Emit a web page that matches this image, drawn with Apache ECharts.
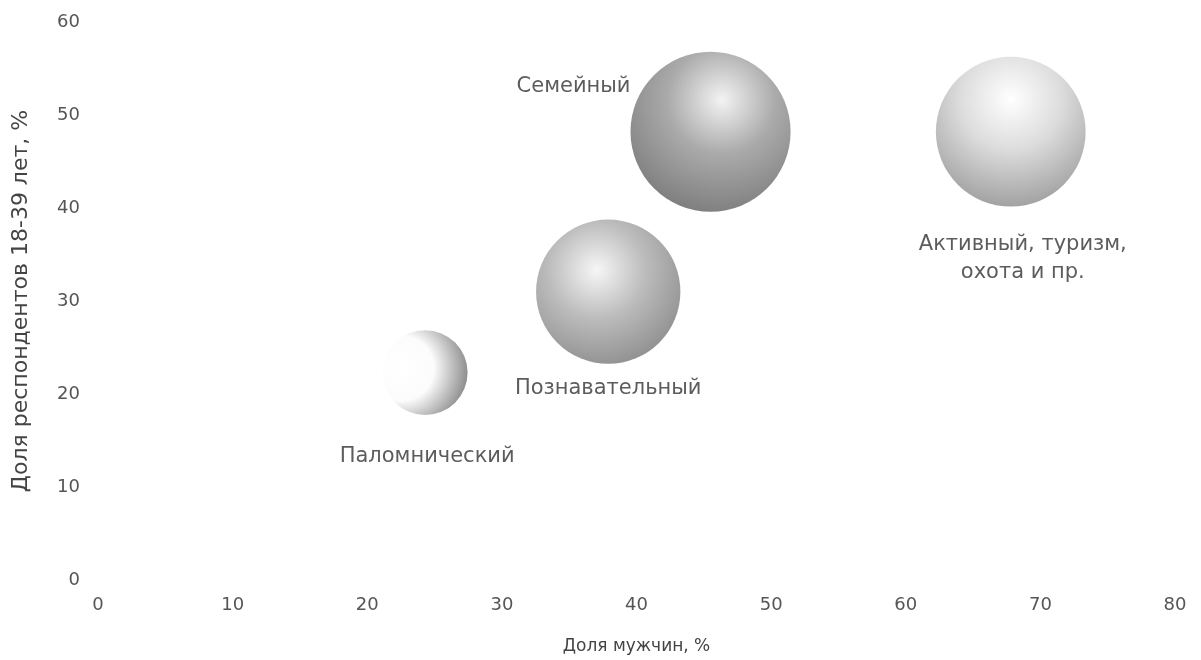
<!DOCTYPE html>
<html><head><meta charset="utf-8">
<script src="https://cdn.jsdelivr.net/npm/echarts@6/dist/echarts.min.js"></script>
<style>html,body{margin:0;padding:0;background:#fff}#c{width:1201px;height:660px}</style>
</head><body><div id="c"></div>
<script>
const names = ['Паломнический', 'Познавательный', 'Семейный', 'Активный, туризм,\nохота и пр.'];
const menShare = [24.3, 37.9, 45.5, 67.8];
const youngShare = [22.3, 31.0, 48.2, 48.2];
const bubbleSize = [9, 26, 32, 28];

const FONT = 'DejaVu Sans';
const styles = [
  {hl: [0.22, 0.45], r: 0.85, stops: ['#ffffff', '#fbfbfb', '#5a5a5a'], lab: {position: 'bottom', distance: 27, offset: [2, 0]}},
  {hl: [0.42, 0.35], r: 0.75, stops: ['#f4f4f4', '#ababab', '#6a6a6a'], lab: {position: 'bottom', distance: 11, offset: [0, 0]}},
  {hl: [0.57, 0.3], r: 0.75, stops: ['#f0f0f0', '#959595', '#5a5a5a'], lab: {position: 'left', distance: 0, offset: [0, -45]}},
  {hl: [0.5, 0.28], r: 0.75, stops: ['#ffffff', '#d4d4d4', '#858585'], lab: {position: 'bottom', distance: 24, offset: [12, 0]}}
];

const data = names.map((n, i) => ({
  name: n,
  value: [menShare[i], youngShare[i], bubbleSize[i]],
  itemStyle: {
    color: {type: 'radial', x: styles[i].hl[0], y: styles[i].hl[1], r: styles[i].r,
      colorStops: [{offset: 0, color: styles[i].stops[0]}, {offset: 0.45, color: styles[i].stops[1]}, {offset: 1, color: styles[i].stops[2]}]}
  },
  label: Object.assign({show: true, formatter: '{b}', color: '#333', fontSize: 21, fontFamily: FONT, lineHeight: 28, align: 'center'}, styles[i].lab,
    styles[i].lab.position === 'left' ? {align: 'right'} : {})
}));

const chart = echarts.init(document.getElementById('c'));
chart.setOption({
  animation: false,
  backgroundColor: '#fff',
  grid: {left: 98, right: 26, top: 22, bottom: 80, containLabel: false},
  xAxis: {
    type: 'value', min: 0, max: 80, interval: 10,
    name: 'Доля мужчин, %', nameLocation: 'middle', nameGap: 58,
    nameTextStyle: {color: '#444', fontSize: 17, fontFamily: FONT},
    axisLine: {show: false}, axisTick: {show: false}, splitLine: {show: false},
    axisLabel: {color: '#555', fontSize: 18, fontFamily: FONT, margin: 16}
  },
  yAxis: {
    type: 'value', min: 0, max: 60, interval: 10,
    name: 'Доля респондентов 18-39 лет, %', nameLocation: 'middle', nameGap: 66,
    nameTextStyle: {color: '#444', fontSize: 22, fontFamily: FONT},
    axisLine: {show: false}, axisTick: {show: false}, splitLine: {show: false},
    axisLabel: {color: '#555', fontSize: 18, fontFamily: FONT, margin: 18}
  },
  series: [{
    type: 'scatter',
    symbolSize: v => 28.3 * Math.sqrt(v[2]),
    data: data
  }]
});
</script></body></html>
